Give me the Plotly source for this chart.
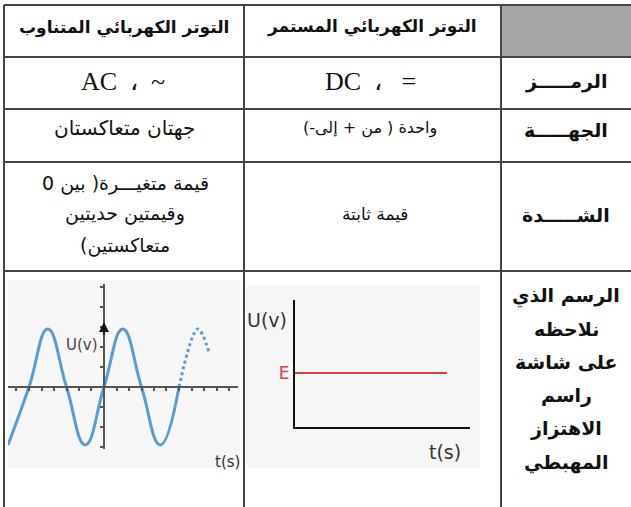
import plotly.graph_objects as go

W, H = 631, 507

# table text (right column = row titles, then DC column, then AC column)
header_ac = "التوتر الكهربائي المتناوب"
header_dc = "التوتر الكهربائي المستمر"
row_titles = ["الرمـــــز", "الجهـــــة", "الشـــــدة"]
symbol_ac = "AC\u00a0 ،\u00a0 ~"
symbol_dc = "DC\u00a0 ،\u00a0\u00a0 ="
direction_ac = "جهتان متعاكستان"
direction_dc = "واحدة ( من + إلى-)"
intensity_ac = ["قيمة متغيـــرة( بين 0", "وقيمتين حديتين", "متعاكستين)"]
intensity_dc = "قيمة ثابتة"
graph_title = ["الرسم الذي", "نلاحظه", "على شاشة", "راسم", "الاهتزاز", "المهبطي"]

# AC curve (t in quarter periods, U relative to peak)
ac_t = [-5.12, -4, -3, -2, -1, 0, 1, 2, 3, 4]
ac_u = [-1, 0, 1, 0, -1, 0, 1, 0, -1, 0]
ac_t_dotted = [4, 5, 5.6]
ac_u_dotted = [0, 1, 0.6]
ac_t_ticks = [-4.67, -4, -3.33, -2.67, -2, -1.33, -0.67, 0.67, 1.33, 2,
              2.67, 3.33, 4, 4.67, 5.33, 6, 6.67]
ac_u_ticks = [-1.03, -0.69, -0.34, 0.34, 0.69, 1.03, 1.38, 1.72]

# DC line
dc_t = [0, 8.69]
dc_u = [4.25, 4.25]
dc_e = 4.25


def px(x, y):
    return x / W, 1 - y / H


def rtl(s):
    # keep brackets and digits inside the right-to-left run
    return "\u200f" + s + "\u200f"


fig = go.Figure()

fig.add_trace(go.Scatter(x=ac_t, y=ac_u, mode="lines", xaxis="x", yaxis="y",
                         line=dict(color="#5b9bd5", width=3, shape="spline", smoothing=1.3),
                         hoverinfo="skip"))
fig.add_trace(go.Scatter(x=ac_t_dotted, y=ac_u_dotted, mode="lines", xaxis="x", yaxis="y",
                         line=dict(color="#5b9bd5", width=3, shape="spline", dash="dot"),
                         hoverinfo="skip"))
fig.add_trace(go.Scatter(x=dc_t, y=dc_u, mode="lines", xaxis="x2", yaxis="y2",
                         line=dict(color="#d9403f", width=2), hoverinfo="skip"))

shapes = []
# cell backgrounds
for x0, y0, x1, y1, col in [(8, 280, 240, 468, "#f6f6f6"), (247, 285, 480, 468, "#f6f6f6"),
                            (501, 5, 631, 57, "#a6a6a6")]:
    a0, b0 = px(x0, y0)
    a1, b1 = px(x1, y1)
    shapes.append(dict(type="rect", xref="paper", yref="paper", x0=a0, y0=b0, x1=a1, y1=b1,
                       fillcolor=col, line=dict(width=0), layer="below"))
# table grid
for y in [5, 57, 109, 162, 271]:
    a0, b = px(4, y)
    a1, _ = px(631, y)
    shapes.append(dict(type="line", xref="paper", yref="paper", x0=a0, x1=a1, y0=b, y1=b,
                       line=dict(color="#454545", width=2)))
for x in [4, 244, 501]:
    a, b0 = px(x, 5)
    _, b1 = px(x, 507)
    shapes.append(dict(type="line", xref="paper", yref="paper", x0=a, x1=a, y0=b0, y1=b1,
                       line=dict(color="#454545", width=2)))

ann = []


def text(s, x, y, size, bold=False, family="DejaVu Sans", color="#111"):
    a, b = px(x, y)
    if bold:
        s = "<b>" + s + "</b>"
    ann.append(dict(text=s, x=a, y=b, xref="paper", yref="paper", showarrow=False,
                    xanchor="center", yanchor="middle",
                    font=dict(family=family, size=size, color=color)))


text(rtl(header_ac), 124, 28, 17, bold=True)
text(rtl(header_dc), 372, 26, 17, bold=True)
text(symbol_ac, 123, 82, 26, family="Liberation Serif")
text(symbol_dc, 370, 82, 26, family="Liberation Serif")
text(rtl(direction_ac), 124, 128, 20)
text(rtl(direction_dc), 370, 128, 16)
for s, y in zip(intensity_ac, [183, 214, 245]):
    text(rtl(s), 125, y, 19)
text(rtl(intensity_dc), 375, 214, 17)
for s, y in zip(row_titles, [82, 130, 215]):
    text(rtl(s), 566, y, 19, bold=True)
for s, y in zip(graph_title, [296, 329, 362, 395, 428, 462]):
    text(rtl(s), 566, y, 19, bold=True)

# chart labels
text("U(v)", 82, 345, 15, color="#444")
text("t(s)", 227, 462, 15, color="#333")
text("U(v)", 267, 320, 19, color="#333")
text("t(s)", 445, 452, 19, color="#333")

# arrow heads
ann.append(dict(x=0, y=1.12, xref="x", yref="y", ax=0, ay=14, text="", showarrow=True,
                arrowhead=2, arrowsize=1, arrowwidth=2, arrowcolor="#111"))
ann.append(dict(x=0, y=10.16, xref="x2", yref="y2", ax=0, ay=18, text="", showarrow=True,
                arrowhead=2, arrowsize=1.2, arrowwidth=2, arrowcolor="#111"))
ann.append(dict(x=10.17, y=0, xref="x2", yref="y2", ax=-18, ay=0, text="", showarrow=True,
                arrowhead=2, arrowsize=1.2, arrowwidth=2, arrowcolor="#111"))

ac_x0, ac_x1 = 8, 238
ac_y0, ac_y1 = 284, 449
fig.update_layout(
    width=W, height=H, margin=dict(l=0, r=0, t=0, b=0),
    paper_bgcolor="white", plot_bgcolor="rgba(0,0,0,0)", showlegend=False,
    shapes=shapes, annotations=ann,
    xaxis=dict(domain=[ac_x0 / W, ac_x1 / W],
               range=[(ac_x0 - 104) / 18.75, (ac_x1 - 104) / 18.75],
               anchor="free", position=1 - 387 / H,
               showline=True, linecolor="#555", linewidth=1.5,
               ticks="outside", ticklen=3, tickwidth=1.5, tickcolor="#555",
               tickvals=ac_t_ticks, showticklabels=False,
               showgrid=False, zeroline=False, fixedrange=True),
    yaxis=dict(domain=[1 - ac_y1 / H, 1 - ac_y0 / H],
               range=[(387 - ac_y1) / 58, (387 - ac_y0) / 58],
               anchor="free", position=104 / W,
               showline=True, linecolor="#555", linewidth=1.5,
               ticks="outside", ticklen=3, tickwidth=1.5, tickcolor="#555",
               tickvals=ac_u_ticks, showticklabels=False,
               showgrid=False, zeroline=False, fixedrange=True),
    xaxis2=dict(domain=[295 / W, 470 / W], range=[0, 10], anchor="y2",
                showline=True, linecolor="#111", linewidth=2,
                showticklabels=False, ticks="", showgrid=False, zeroline=False),
    yaxis2=dict(domain=[1 - 427 / H, 1 - 300 / H], range=[0, 10], anchor="x2",
                showline=True, linecolor="#111", linewidth=2,
                tickvals=[dc_e], ticktext=["E"], ticks="",
                tickfont=dict(family="DejaVu Sans", size=17, color="#d9403f"),
                showgrid=False, zeroline=False),
)

# drop the page margin so the figure sits at the window corner
fig.write_html("out.html", config={"displayModeBar": False},
               post_script="document.body.style.margin='0px';")
